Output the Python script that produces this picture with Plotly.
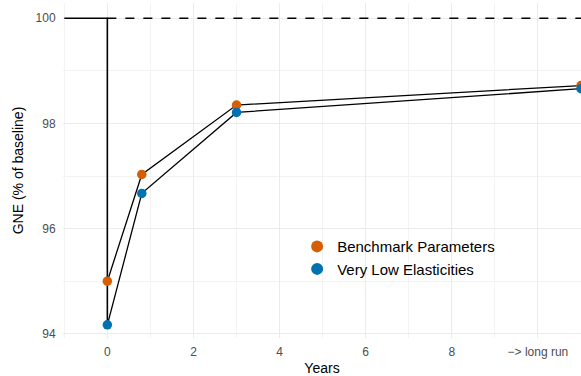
import plotly.graph_objects as go

years = [0, 0.8, 3, 11]
benchmark = [95.0, 97.03, 98.35, 98.72]
very_low = [94.17, 96.67, 98.21, 98.66]
pre_x = [-1, 0, 0]
pre_y = [100, 100, 94.17]
baseline = 100
tick_vals = [0, 2, 4, 6, 8, 10]
tick_text = ["0", "2", "4", "6", "8", "−> long run"]

orange = "#D55E00"
blue = "#0072B2"

fig = go.Figure()
fig.add_trace(go.Scatter(x=[0, 11], y=[baseline, baseline], mode="lines",
                         line=dict(color="black", width=1.3, dash="dash"), showlegend=False))
fig.add_trace(go.Scatter(x=pre_x, y=pre_y, mode="lines",
                         line=dict(color="black", width=1.6), showlegend=False))
fig.add_trace(go.Scatter(x=years, y=benchmark, mode="lines",
                         line=dict(color="black", width=1.3), showlegend=False))
fig.add_trace(go.Scatter(x=years, y=very_low, mode="lines",
                         line=dict(color="black", width=1.3), showlegend=False))
fig.add_trace(go.Scatter(x=years, y=benchmark, mode="markers", name="Benchmark Parameters",
                         marker=dict(color=orange, size=9.5), cliponaxis=True))
fig.add_trace(go.Scatter(x=years, y=very_low, mode="markers", name="Very Low Elasticities",
                         marker=dict(color=blue, size=9.5), cliponaxis=True))

fig.update_layout(
    width=581, height=376,
    margin=dict(l=63, r=0, t=3, b=38),
    plot_bgcolor="white", paper_bgcolor="white",
    font=dict(family="Liberation Sans, Arial, sans-serif", size=14, color="black"),
    legend=dict(x=0.452, y=0.322, xanchor="left", yanchor="top",
                bgcolor="rgba(0,0,0,0)", font=dict(size=15), itemsizing="constant",
                tracegroupgap=0),
    xaxis=dict(range=[-1.03, 11.0], tickvals=tick_vals, ticktext=tick_text,
               showgrid=True, gridcolor="#ebebeb", gridwidth=1.2, zeroline=False,
               minor=dict(dtick=1, tick0=1, showgrid=True, gridcolor="#f3f3f3", gridwidth=0.8),
               tickfont=dict(size=12, color="#4d4d4d"), ticks="outside", ticklen=3,
               tickcolor="rgba(0,0,0,0)", automargin=False,
               title=dict(text="Years", font=dict(size=14), standoff=4)),
    yaxis=dict(range=[93.92, 100.29], tickvals=[94, 96, 98, 100],
               showgrid=True, gridcolor="#ebebeb", gridwidth=1.2, zeroline=False,
               minor=dict(tickvals=[95, 97, 99], showgrid=True, gridcolor="#f3f3f3", gridwidth=0.8),
               tickfont=dict(size=12, color="#4d4d4d"), ticks="outside", ticklen=4,
               tickcolor="rgba(0,0,0,0)", automargin=False,
               title=dict(text="GNE (% of baseline)", font=dict(size=14), standoff=8)),
)
fig.write_html("out.html", config={"displayModeBar": False},
               post_script="document.body.style.margin='0px';")
